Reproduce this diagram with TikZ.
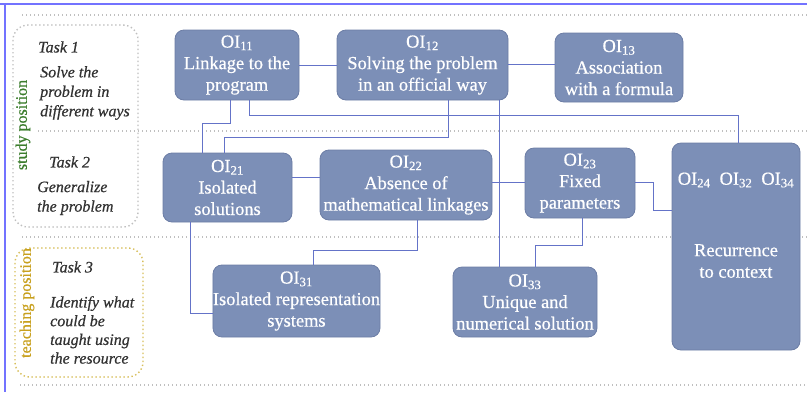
\documentclass[tikz,border=0pt]{standalone}
\usepackage{fontspec}
\setmainfont{Liberation Serif}
\newfontfamily\heavyserif{Liberation Serif}[FakeBold=0.6]
\definecolor{oifill}{RGB}{124,143,183}
\definecolor{oiborder}{RGB}{108,125,165}
\definecolor{conncol}{RGB}{100,115,200}
\definecolor{framecol}{RGB}{115,115,255}
\definecolor{taskcol}{RGB}{50,50,50}
\definecolor{studycol}{RGB}{60,125,45}
\definecolor{teachcol}{RGB}{200,160,30}
\definecolor{teachbox}{RGB}{215,190,90}
\tikzset{
  oi/.style={draw=oiborder, fill=oifill, rounded corners=9pt, text=white, align=center,
    inner sep=0pt, font=\heavyserif\fontsize{18.4}{21.5}\selectfont, line width=0.8pt},
  oitext/.style={text=white, align=center, inner sep=0pt, font=\heavyserif\fontsize{18.4}{21.5}\selectfont},
  conn/.style={draw=conncol, line width=0.9pt},
  gridline/.style={draw=gray!50, line width=1.4pt, dash pattern=on 1.4pt off 2.6pt},
  tasktext/.style={anchor=west, align=left, inner sep=0pt, text=taskcol,
    font=\heavyserif\fontsize{16}{19.5}\selectfont\itshape},
  poslabel/.style={rotate=90, inner sep=0pt, font=\heavyserif\fontsize{16}{19}\selectfont}
}
\begin{document}
\begin{tikzpicture}[x=1pt,y=-1pt]
\useasboundingbox (0,0) rectangle (807,392);
% frame
\draw[framecol, line width=2pt] (0,4) -- (807,4);
\draw[framecol, line width=2pt] (5,4) -- (5,392);
% dotted separators
\draw[gridline] (22,15) -- (807,15);
\draw[gridline] (38,131) -- (807,131);
\draw[gridline] (22,237) -- (807,237);
\draw[gridline] (20,385) -- (807,385);
% task boxes
\draw[gridline, rounded corners=15pt] (13,25) rectangle (138,227);
\draw[draw=teachbox, line width=1.4pt, dash pattern=on 1.4pt off 2.6pt, rounded corners=15pt] (15,248) rectangle (143,377);
\node[poslabel, text=studycol] (sp) at (23,125) {study position};
\node[poslabel, text=teachcol] (tp) at (27,303) {teaching position};
\node[tasktext] (t1) at (38,47) {Task 1};
\node[tasktext] (t1b) at (40,93) {Solve the\\problem in\\different ways};
\node[tasktext] (t2) at (49,162) {Task 2};
\node[tasktext] (t2b) at (37,198) {Generalize\\the problem};
\node[tasktext] (t3) at (52,267) {Task 3};
\node[tasktext, font=\heavyserif\fontsize{16}{18.7}\selectfont\itshape] (t3b) at (50,330) {Identify what\\could be\\taught using\\the resource};
% OI nodes
\node[oi, minimum width=124pt, minimum height=70pt] (n11) at (237,65) {OI\textsubscript{11}\\Linkage to the\\program};
\node[oi, minimum width=171pt, minimum height=70pt] (n12) at (422.5,65) {OI\textsubscript{12}\\Solving the problem\\in an official way};
\node[oi, minimum width=128pt, minimum height=69pt] (n13) at (619,67.5) {OI\textsubscript{13}\\Association\\with a formula};
\node[oi, minimum width=129pt, minimum height=69pt] (n21) at (227.5,187.5) {OI\textsubscript{21}\\Isolated\\solutions};
\node[oi, minimum width=172pt, minimum height=70pt] (n22) at (406,185) {OI\textsubscript{22}\\Absence of\\mathematical linkages};
\node[oi, minimum width=110pt, minimum height=70pt] (n23) at (580,183) {OI\textsubscript{23}\\Fixed\\parameters};
\node[oi, minimum width=128pt, minimum height=207pt] (nbig) at (736,246.5) {};
\node[oitext] (nbigA) at (736,180) {OI\textsubscript{24}\hspace{9pt}OI\textsubscript{32}\hspace{9pt}OI\textsubscript{34}};
\node[oitext] (nbigB) at (736,261) {Recurrence\\to context};
\node[oi, minimum width=167pt, minimum height=72pt] (n31) at (296.5,301) {OI\textsubscript{31}\\Isolated representation\\systems};
\node[oi, minimum width=144pt, minimum height=70pt] (n33) at (525,302) {OI\textsubscript{33}\\Unique and\\numerical solution};
% connectors
\draw[conn] (n11.east |- 0,65) -- (n12.west |- 0,65);
\draw[conn] (n12.east |- 0,64) -- (n13.west |- 0,64);
\draw[conn] (n11.south -| 230,0) |- (202,123) -- (n21.north -| 202,0);
\draw[conn] (n11.south -| 249,0) -- (249,115) -| (nbig.north -| 738,0);
\draw[conn] (n12.south -| 448,0) -- (448,137) -| (n21.north -| 224,0);
\draw[conn] (n12.south -| 499,0) -- (n33.north -| 499,0);
\draw[conn] (n21.east |- 0,177) -- (n22.west |- 0,177);
\draw[conn] (n22.east |- 0,182) -- (n23.west |- 0,182);
\draw[conn] (n23.east |- 0,182) -- (653,182) |- (nbig.west |- 0,210);
\draw[conn] (n21.south -| 190,0) |- (n31.west |- 0,313);
\draw[conn] (n22.south -| 417,0) |- (313,250) -- (n31.north -| 313,0);
\draw[conn] (n23.south -| 582,0) |- (535,245) -- (n33.north -| 535,0);
\end{tikzpicture}
\end{document}
